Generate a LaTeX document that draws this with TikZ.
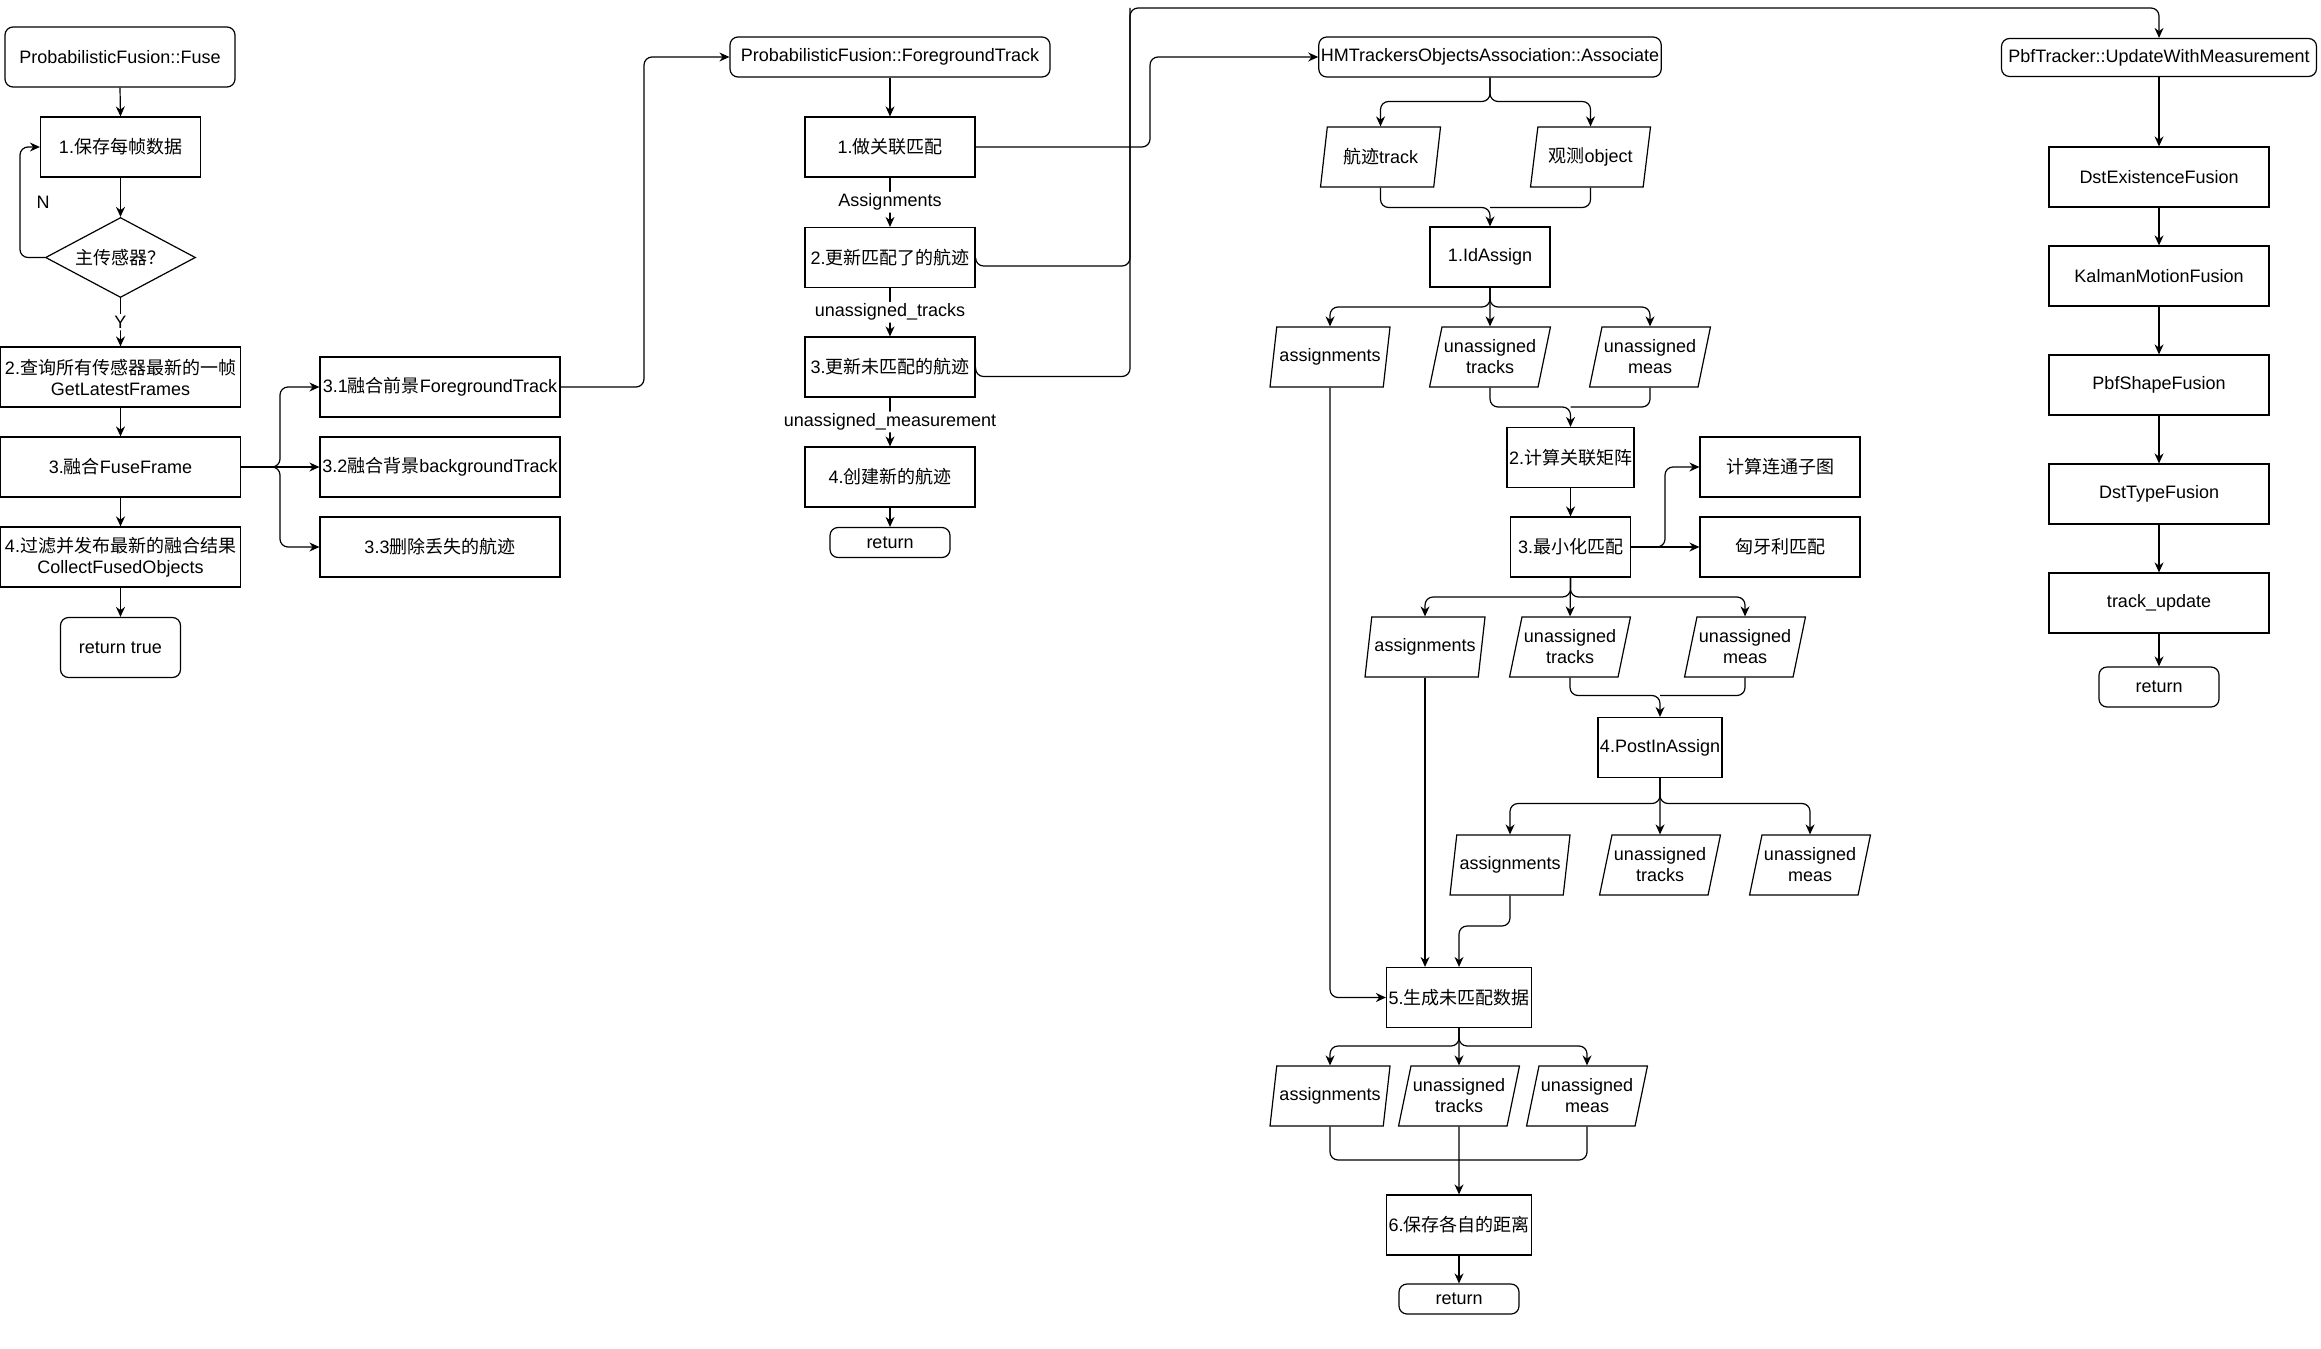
\documentclass[tikz,border=0pt]{standalone}
\usepackage{fontspec}
\setmainfont{Liberation Sans}
\newfontfamily\zhfont{Noto Sans CJK SC}
\newcommand{\zh}[1]{{\zhfont #1}}
\usetikzlibrary{shapes.geometric, arrows.meta}

\begin{document}
\begin{tikzpicture}[x=0.5pt, y=-0.5pt,
    every node/.style={font=\fontsize{9}{10.5}\selectfont, align=center, inner sep=1pt},
    box/.style={draw, line width=0.6pt, minimum width=#1, minimum height=30pt},
    box/.default=60pt,
    rbox/.style={draw, line width=0.6pt, rounded corners=4pt, minimum width=#1, minimum height=30pt},
    rbox/.default=60pt,
    io/.style={draw, line width=0.6pt, trapezium, trapezium left angle=72, trapezium right angle=108,
      trapezium stretches body, minimum width=60pt, minimum height=30pt},
    link/.style={line width=0.6pt, rounded corners=4pt},
    arr/.style={link, -{Stealth[length=5pt, width=4.5pt]}},
    lbl/.style={fill=white}]
  \useasboundingbox (0,0) rectangle (2321,1348);

  % Fuse column
  \node[rbox=115pt] (fuse) at (120,57) {ProbabilisticFusion::Fuse};
  \node[box=80pt] (save) at (120.5,147) {1.\zh{保存每帧数据}};
  \node[draw, line width=0.6pt, diamond, aspect=2, minimum width=75pt, minimum height=40pt] (sensor) at (120.5,257.5) {\zh{主传感器？}};
  \node[box=120pt] (latest) at (120.5,377) {2.\zh{查询所有传感器最新的一帧}\\GetLatestFrames};
  \node[box=120pt] (fuseframe) at (120.5,467) {3.\zh{融合}FuseFrame};
  \node[box=120pt] (collect) at (120.5,557) {4.\zh{过滤并发布最新的融合结果}\\CollectFusedObjects};
  \node[rbox] (rettrue) at (120.5,647.5) {return true};
  \node (no) at (43,202) {N};
  % FuseFrame branches
  \node[box=120pt] (fore) at (440,387) {3.1\zh{融合前景}ForegroundTrack};
  \node[box=120pt] (back) at (440,467) {3.2\zh{融合背景}backgroundTrack};
  \node[box=120pt] (lost) at (440,547) {3.3\zh{删除丢失的航迹}};
  % Arrows fuse column
  \coordinate (loopx) at (20,0);
  \coordinate (fork1) at (280,467);
  \coordinate (bend1) at (644,0);
  \draw[arr] (fuse.south) -- (save.north);
  \draw[arr] (save.south) -- (sensor.north);
  \draw[arr] (sensor.west) -- (sensor.west -| loopx) |- (save.west);
  \draw[arr] (sensor.south) -- node[lbl] {Y} (latest.north);
  \draw[arr] (latest.south) -- (fuseframe.north);
  \draw[arr] (fuseframe.south) -- (collect.north);
  \draw[arr] (collect.south) -- (rettrue.north);
  \draw[arr] (fuseframe.east) -- (back.west);
  \draw[arr] (fuseframe.east) -- (fork1) |- (fore.west);
  \draw[arr] (fuseframe.east) -- (fork1) |- (lost.west);

  % ForegroundTrack column
  \node[rbox=160pt, minimum height=20pt] (fg) at (890,57) {ProbabilisticFusion::ForegroundTrack};
  \node[box=85pt] (match) at (890,147) {1.\zh{做关联匹配}};
  \node[box=85pt] (updm) at (890,257.5) {2.\zh{更新匹配了的航迹}};
  \node[box=85pt] (updu) at (890,367) {3.\zh{更新未匹配的航迹}};
  \node[box=85pt] (newtrk) at (890,477) {4.\zh{创建新的航迹}};
  \node[rbox, minimum height=15pt] (ret2) at (890,542.5) {return};
  \draw[arr] (fore.east) -- (fore.east -| bend1) |- (fg.west);
  \draw[arr] (fg.south) -- (match.north);
  \draw[arr] (match.south) -- node[lbl] {Assignments} (updm.north);
  \draw[arr] (updm.south) -- node[lbl] {unassigned\_tracks} (updu.north);
  \draw[arr] (updu.south) -- node[lbl] {unassigned\_measurement} (newtrk.north);
  \draw[arr] (newtrk.south) -- (ret2.north);

  % Associate column
  \node[rbox=165pt, minimum height=20pt] (assoc) at (1490,57) {HMTrackersObjectsAssociation::Associate};
  \node[io] (trk) at (1380.5,157) {\zh{航迹}track};
  \node[io] (obj) at (1590.5,157) {\zh{观测}object};
  \node[box] (idas) at (1490,257) {1.IdAssign};
  \node[io] (asg1) at (1330,357) {assignments};
  \node[io] (uat1) at (1490,357) {unassigned\\tracks};
  \node[io] (uam1) at (1650,357) {unassigned\\meas};
  \node[box] (cost) at (1570.5,457.5) {2.\zh{计算关联矩阵}};
  \node[box] (minm) at (1570.5,547) {3.\zh{最小化匹配}};
  \node[box=80pt] (subg) at (1780,467) {\zh{计算连通子图}};
  \node[box=80pt] (hung) at (1780,547) {\zh{匈牙利匹配}};
  \node[io] (asg2) at (1425,647) {assignments};
  \node[io] (uat2) at (1570,647) {unassigned\\tracks};
  \node[io] (uam2) at (1745,647) {unassigned\\meas};
  \node[box] (post) at (1660,747.5) {4.PostInAssign};
  \node[io] (asg3) at (1510,865) {assignments};
  \node[io] (uat3) at (1660,865) {unassigned\\tracks};
  \node[io] (uam3) at (1810,865) {unassigned\\meas};
  \node[box=70pt] (gen) at (1459,997.5) {5.\zh{生成未匹配数据}};
  \node[io] (asg4) at (1330,1096) {assignments};
  \node[io] (uat4) at (1459,1096) {unassigned\\tracks};
  \node[io] (uam4) at (1587,1096) {unassigned\\meas};
  \node[box=70pt] (dist) at (1459,1225) {6.\zh{保存各自的距离}};
  \node[rbox, minimum height=15pt] (ret3) at (1459,1299) {return};
  % Fork and merge levels
  \coordinate (s1) at (0,101.5);
  \coordinate (s2) at (0,207.5);
  \coordinate (s3) at (0,307);
  \coordinate (s4) at (0,407);
  \coordinate (s5) at (0,597);
  \coordinate (s6) at (0,695.5);
  \coordinate (s7) at (0,803.5);
  \coordinate (s8) at (0,926);
  \coordinate (s9) at (0,1046);
  \coordinate (s10) at (0,1160);
  \coordinate (bend2) at (1150,0);
  \coordinate (bend4) at (1665,0);
  % Arrows associate column
  \draw[arr] (match.east) -- (match.east -| bend2) |- (assoc.west);
  \draw[arr] (assoc.south) |- (trk.north |- s1) -- (trk.north);
  \draw[arr] (assoc.south) |- (obj.north |- s1) -- (obj.north);
  \draw[arr] (trk.south) |- (idas.north |- s2) -- (idas.north);
  \draw[link] (obj.south) |- (idas.north |- s2);
  \draw[arr] (idas.south) |- (asg1.north |- s3) -- (asg1.north);
  \draw[arr] (idas.south) -- (uat1.north);
  \draw[arr] (idas.south) |- (uam1.north |- s3) -- (uam1.north);
  \draw[arr] (uat1.south) |- (cost.north |- s4) -- (cost.north);
  \draw[link] (uam1.south) |- (cost.north |- s4);
  \draw[arr] (cost.south) -- (minm.north);
  \draw[arr] (minm.east) -- (minm.east -| bend4) |- (subg.west);
  \draw[arr] (minm.east) -- (hung.west);
  \draw[arr] (minm.south) |- (asg2.north |- s5) -- (asg2.north);
  \draw[arr] (minm.south) -- (uat2.north);
  \draw[arr] (minm.south) |- (uam2.north |- s5) -- (uam2.north);
  \draw[arr] (uat2.south) |- (post.north |- s6) -- (post.north);
  \draw[link] (uam2.south) |- (post.north |- s6);
  \draw[arr] (post.south) |- (asg3.north |- s7) -- (asg3.north);
  \draw[arr] (post.south) -- (uat3.north);
  \draw[arr] (post.south) |- (uam3.north |- s7) -- (uam3.north);
  \draw[arr] (asg1.south) |- (gen.west);
  \draw[arr] (asg2.south) -- (asg2.south |- gen.north);
  \draw[arr] (asg3.south) |- (gen.north |- s8) -- (gen.north);
  \draw[arr] (gen.south) |- (asg4.north |- s9) -- (asg4.north);
  \draw[arr] (gen.south) -- (uat4.north);
  \draw[arr] (gen.south) |- (uam4.north |- s9) -- (uam4.north);
  \draw[link] (asg4.south) |- (dist.north |- s10);
  \draw[link] (uam4.south) |- (dist.north |- s10);
  \draw[arr] (uat4.south) -- (dist.north);
  \draw[arr] (dist.south) -- (ret3.north);

  % UpdateWithMeasurement column
  \node[rbox=157.5pt, minimum height=19pt] (pbf) at (2159,57.5) {PbfTracker::UpdateWithMeasurement};
  \node[box=110pt] (exist) at (2159,177) {DstExistenceFusion};
  \node[box=110pt] (motion) at (2159,276) {KalmanMotionFusion};
  \node[box=110pt] (shape) at (2159,385) {PbfShapeFusion};
  \node[box=110pt] (type) at (2159,494) {DstTypeFusion};
  \node[box=110pt] (trkupd) at (2159,603) {track\_update};
  \node[rbox, minimum height=20pt] (ret4) at (2159,687) {return};
  \coordinate (bend3) at (1130,8);
  \draw[arr] (updm.east) -- ++(0,8.5) -| (bend3) -| (pbf.north);
  \draw[link] (updu.east) -- ++(0,9.5) -| (bend3);
  \draw[arr] (pbf.south) -- (exist.north);
  \draw[arr] (exist.south) -- (motion.north);
  \draw[arr] (motion.south) -- (shape.north);
  \draw[arr] (shape.south) -- (type.north);
  \draw[arr] (type.south) -- (trkupd.north);
  \draw[arr] (trkupd.south) -- (ret4.north);
\end{tikzpicture}
\end{document}
